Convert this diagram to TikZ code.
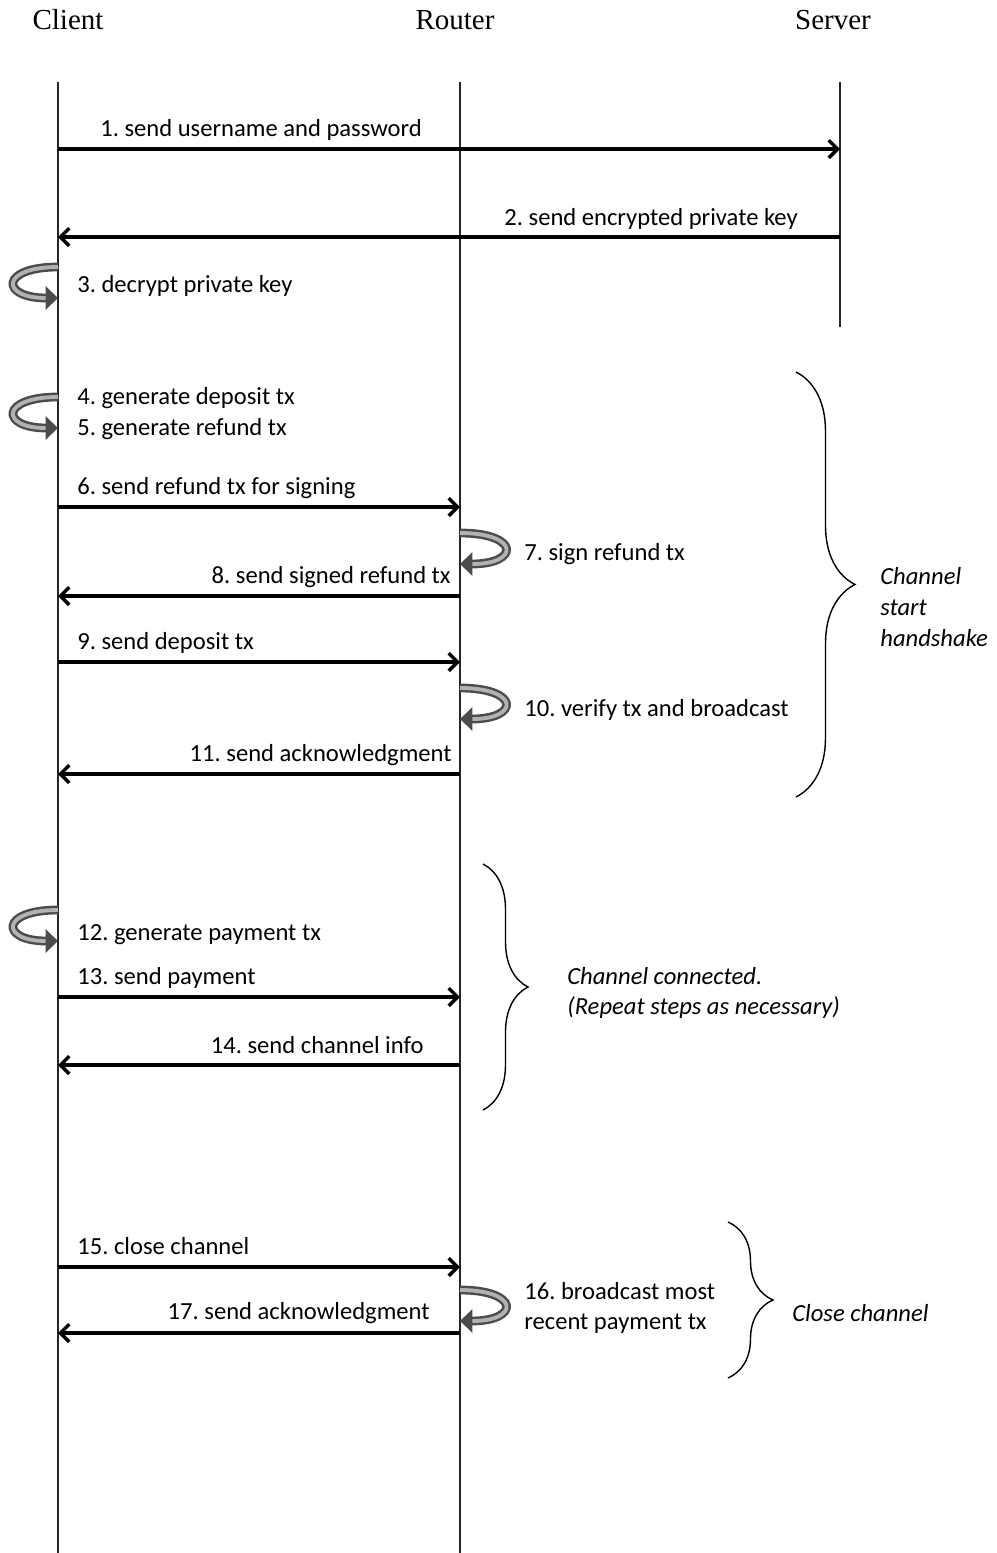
\documentclass[tikz,border=0pt]{standalone}
\usepackage{fontspec}
\setmainfont{Carlito}
\newfontfamily\headfont{Liberation Serif}
\usetikzlibrary{positioning,arrows.meta,decorations.pathreplacing}

\begin{document}
\frenchspacing
\begin{tikzpicture}[
  x=0.02cm, y=-0.02cm,
  font=\fontsize{14}{17.5}\selectfont,
  head/.style={font=\headfont\fontsize{16.5}{19}\selectfont, inner sep=0pt},
  life/.style={draw=black!85, line width=0.8pt},
  msg/.style={-{Straight Barb[length=5pt,width=10pt]}, line width=2pt},
  lbl/.style={inner sep=0pt, anchor=west},
  lblr/.style={inner sep=0pt, anchor=east},
  cloop/.style={line width=5pt, draw=black!70, -{Triangle[length=7pt,width=13pt]},
                postaction={draw=black!30, line width=2.2pt, -, shorten >=7pt}},
  brc/.style={decorate, decoration={brace, amplitude=#1}, line width=0.8pt},
  note/.style={font=\fontsize{14}{17.5}\selectfont\itshape, inner sep=0pt, anchor=west, align=left}
]
\useasboundingbox (0,0) rectangle (997,1553);

% lifelines
\node[head] (client) at (68,20) {Client};
\node[head] (router) at (455,20) {Router};
\node[head] (server) at (833,20) {Server};
\coordinate (ctop) at (58,82);   \coordinate (cend) at (58,1553);
\coordinate (rtop) at (460,82);  \coordinate (rend) at (460,1553);
\coordinate (stop) at (840,82);  \coordinate (send) at (840,327);
\draw[life] (ctop) -- (cend);
\draw[life] (rtop) -- (rend);
\draw[life] (stop) -- (send);

% message ends on the lifelines
\foreach \n/\y in {1/149, 2/237, 6/507, 8/596, 9/662, 11/774, 13/997, 14/1065, 15/1267, 17/1333} {
  \coordinate (c\n) at (58,\y);
  \coordinate (r\n) at (460,\y);
  \coordinate (s\n) at (840,\y);
}

% messages
\draw[msg] (c1) -- (s1);
\node[lbl] (m1) at (100,130) {1. send username and password};
\draw[msg] (s2) -- (c2);
\node[lblr] (m2) at (798,219) {2. send encrypted private key};
\draw[msg] (c6) -- (r6);
\node[lbl] (m6) at (77,488) {6. send refund tx for signing};
\draw[msg] (r8) -- (c8);
\node[lblr] (m8) at (451,577) {8. send signed refund tx};
\draw[msg] (c9) -- (r9);
\node[lbl] (m9) at (77,643) {9. send deposit tx};
\draw[msg] (r11) -- (c11);
\node[lblr] (m11) at (452,755) {11. send acknowledgment};
\draw[msg] (c13) -- (r13);
\node[lbl] (m13) at (77,978) {13. send payment};
\draw[msg] (r14) -- (c14);
\node[lblr] (m14) at (424,1045) {14. send channel info};
\draw[msg] (c15) -- (r15);
\node[lbl] (m15) at (77,1246) {15. close channel};
\draw[msg] (r17) -- (c17);
\node[lblr] (m17) at (430,1313) {17. send acknowledgment};

% local steps
\foreach \y in {283, 413, 926} {
  \draw[cloop] (58,\y-16) .. controls (0,\y-16) and (0,\y+15) .. (58,\y+15);
}
\foreach \y in {548, 703, 1305} {
  \draw[cloop] (460,\y-15) .. controls (520,\y-15) and (520,\y+16) .. (460,\y+16);
}
\node[lbl] (m3) at (77,286) {3. decrypt private key};
\node[lbl] (m4) at (77,398) {4. generate deposit tx};
\node[lbl] (m5) at (77,429) {5. generate refund tx};
\node[lbl] (m7) at (524,554) {7. sign refund tx};
\node[lbl] (m10) at (524,710) {10. verify tx and broadcast};
\node[lbl] (m12) at (77,935) {12. generate payment tx};
\node[lbl, align=left] (m16) at (524,1308) {16. broadcast most\\recent payment tx};

% phases
\coordinate (h1) at (796,372);  \coordinate (h2) at (796,797);
\coordinate (p1) at (483,864);  \coordinate (p2) at (483,1110);
\coordinate (q1) at (728,1222); \coordinate (q2) at (728,1378);
\draw[brc=1.18cm] (h1) -- (h2);
\draw[brc=0.9cm] (p1) -- (p2);
\draw[brc=0.9cm] (q1) -- (q2);
\node[note] (hand) at (880,607) {Channel\\start\\handshake};
\node[note] (conn) at (567,993) {Channel connected.\\(Repeat steps as necessary)};
\node[note] (close) at (792,1313) {Close channel};
\end{tikzpicture}
\end{document}
